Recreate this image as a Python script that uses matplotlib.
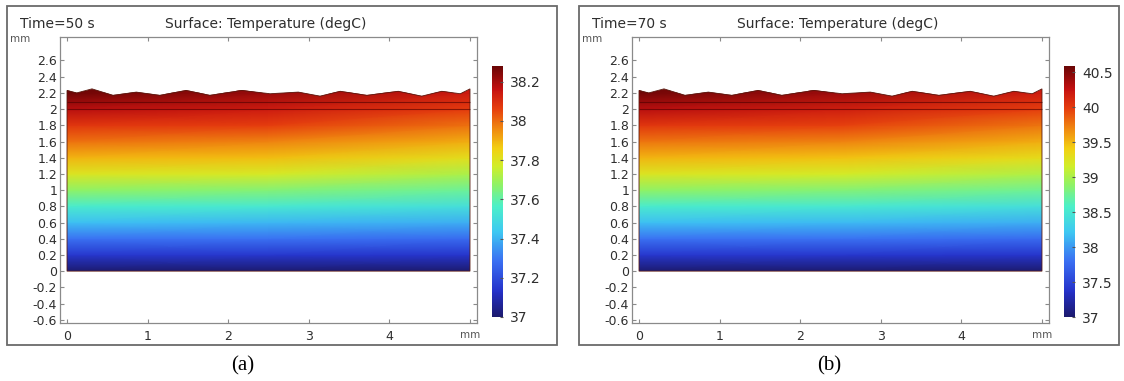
import matplotlib

matplotlib.use("Agg")
import matplotlib.pyplot as plt
from matplotlib.colors import LinearSegmentedColormap
from matplotlib.patches import Polygon, Rectangle

FIG_W, FIG_H = 1124, 381

# free surface of the layer (mm)
surface_x = [0.0, 0.12, 0.31, 0.57, 0.86, 1.15, 1.48, 1.77, 2.17, 2.52, 2.87,
             3.14, 3.39, 3.72, 4.11, 4.40, 4.65, 4.88, 5.0]
surface_y = [2.23, 2.20, 2.25, 2.17, 2.21, 2.17, 2.23, 2.17, 2.23, 2.19, 2.21,
             2.16, 2.22, 2.17, 2.22, 2.16, 2.22, 2.19, 2.25]
layer_lines = [2.085, 2.005]

# temperature samples (degC) on a coarse grid, columns at grid_x
grid_x = [0.0, 2.5, 5.0]
grid_y = [0.0, 0.2, 0.4, 0.6, 0.8, 1.0, 1.2, 1.4, 1.6, 1.8, 2.0, 2.2, 2.4]
temp_50s = [
    [37.00, 37.00, 37.00],
    [37.15, 37.15, 37.14],
    [37.29, 37.29, 37.27],
    [37.42, 37.41, 37.39],
    [37.55, 37.54, 37.51],
    [37.68, 37.66, 37.62],
    [37.80, 37.78, 37.72],
    [37.90, 37.88, 37.82],
    [37.99, 37.97, 37.91],
    [38.08, 38.06, 37.99],
    [38.18, 38.14, 38.07],
    [38.27, 38.22, 38.14],
    [38.28, 38.24, 38.16],
]
temp_70s = [
    [37.00, 37.00, 37.00],
    [37.42, 37.42, 37.40],
    [37.81, 37.81, 37.76],
    [38.18, 38.16, 38.10],
    [38.54, 38.51, 38.43],
    [38.90, 38.85, 38.74],
    [39.24, 39.18, 39.03],
    [39.52, 39.46, 39.31],
    [39.77, 39.72, 39.55],
    [40.02, 39.96, 39.77],
    [40.30, 40.18, 39.98],
    [40.55, 40.40, 40.18],
    [40.58, 40.45, 40.24],
]

time_labels = ["Time=50 s", "Time=70 s"]
plot_title = "Surface: Temperature (degC)"
panel_labels = ["(a)", "(b)"]
cbar_limits = [(37.0, 38.28), (37.0, 40.59)]
cbar_ticks = [
    [37.0, 37.2, 37.4, 37.6, 37.8, 38.0, 38.2],
    [37.0, 37.5, 38.0, 38.5, 39.0, 39.5, 40.0, 40.5],
]
cbar_tick_labels = [
    ["37", "37.2", "37.4", "37.6", "37.8", "38", "38.2"],
    ["37", "37.5", "38", "38.5", "39", "39.5", "40", "40.5"],
]
x_ticks = [0, 1, 2, 3, 4, 5]
x_tick_labels = ["0", "1", "2", "3", "4", "mm"]
y_ticks = [-0.6, -0.4, -0.2, 0.0, 0.2, 0.4, 0.6, 0.8, 1.0, 1.2, 1.4, 1.6,
           1.8, 2.0, 2.2, 2.4, 2.6]
y_tick_labels = ["-0.6", "-0.4", "-0.2", "0", "0.2", "0.4", "0.6", "0.8", "1",
                 "1.2", "1.4", "1.6", "1.8", "2", "2.2", "2.4", "2.6"]

# COMSOL-like rainbow, softer than jet
rainbow = LinearSegmentedColormap.from_list("comsol_rainbow", [
    (0.00, "#1c1a6e"),
    (0.10, "#2430c8"),
    (0.22, "#3a6ef2"),
    (0.34, "#3ec8f2"),
    (0.44, "#4cf0c8"),
    (0.53, "#90f264"),
    (0.60, "#d0ee2a"),
    (0.67, "#f2d012"),
    (0.75, "#f08a10"),
    (0.83, "#e63e0e"),
    (0.91, "#c41010"),
    (1.00, "#6a0606"),
])


def box(left, top, right, bottom):
    """Pixel box (from the top-left) -> figure fraction rect."""
    return [left / FIG_W, 1 - bottom / FIG_H, (right - left) / FIG_W, (bottom - top) / FIG_H]


def fx(x):
    return x / FIG_W


def fy(y):
    return 1 - y / FIG_H


fig = plt.figure(figsize=(FIG_W / 100, FIG_H / 100), dpi=100)
text_color = "#2e2e2e"
spine_color = "#8a8a8a"

for i, temps in enumerate([temp_50s, temp_70s]):
    dx = 572 * i

    frame_right = 557 if i == 0 else 1119
    frame = Rectangle((fx(7 + dx), fy(345)), (frame_right - 7 - dx) / FIG_W, 339 / FIG_H,
                      transform=fig.transFigure, fill=False, edgecolor="#6a6a6a", linewidth=1.3)
    fig.add_artist(frame)

    ax = fig.add_axes(box(60 + dx, 37, 477 + dx, 323))
    vmin, vmax = cbar_limits[i]
    mesh = ax.pcolormesh(grid_x, grid_y, temps, shading="gouraud", cmap=rainbow,
                         vmin=vmin, vmax=vmax)
    outline = [(0.0, 0.0)] + list(zip(surface_x, surface_y)) + [(5.0, 0.0)]
    domain = Polygon(outline, closed=True, facecolor="none", edgecolor="#5a1a10",
                     linewidth=0.6)
    ax.add_patch(domain)
    mesh.set_clip_path(domain)
    ax.hlines(layer_lines, 0, 5, colors="#4a0000", linewidth=0.8, alpha=0.6)

    ax.set_xlim(-0.087, 5.087)
    ax.set_ylim(-0.64, 2.89)
    ax.set_xticks(x_ticks, x_tick_labels)
    ax.set_yticks(y_ticks, y_tick_labels)
    ax.tick_params(direction="in", top=True, right=True, length=3, width=0.8,
                   colors=spine_color, labelcolor=text_color, labelsize=9)
    ax.tick_params(axis="x", pad=5)
    ax.tick_params(axis="y", pad=2)
    ax.get_xticklabels()[-1].set_fontsize(7.5)
    ax.get_xticklabels()[-1].set_color("#555555")
    for spine in ax.spines.values():
        spine.set_color(spine_color)
        spine.set_linewidth(0.9)

    cax = fig.add_axes(box(492 + dx, 66, 503 + dx, 317))
    cbar = fig.colorbar(mesh, cax=cax, ticks=cbar_ticks[i])
    cbar.set_ticklabels(cbar_tick_labels[i])
    cbar.outline.set_visible(False)
    cax.tick_params(length=2, width=0.8, direction="in", colors="#555555",
                    labelcolor=text_color, labelsize=10, pad=5)

    fig.text(fx(20 + dx), fy(24), time_labels[i], fontsize=10, color=text_color,
             ha="left", va="center")
    fig.text(fx(165 + dx), fy(24), plot_title, fontsize=10, color=text_color,
             ha="left", va="center")
    fig.text(fx(10 + dx), fy(39), "mm", fontsize=7.5, color="#555555",
             ha="left", va="center")
    fig.text(fx(243 + 586 * i), fy(366), panel_labels[i], fontsize=15,
             family="Liberation Serif", color="black", ha="center", va="center")

fig.savefig("out.png", dpi=100)
